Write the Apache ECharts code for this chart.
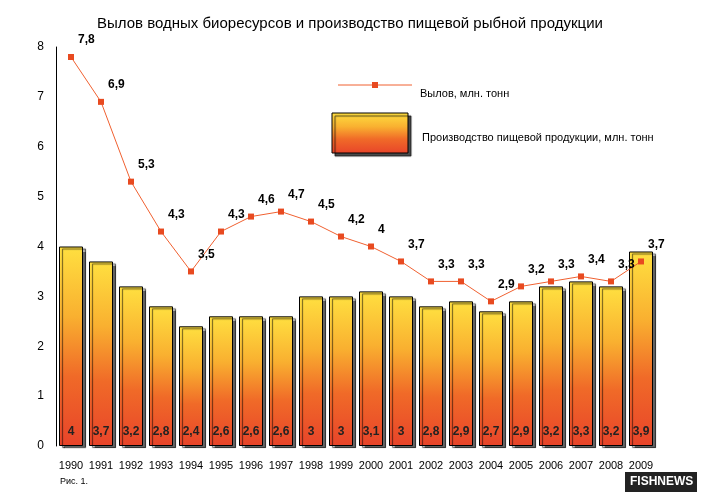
<!DOCTYPE html>
<html><head><meta charset="utf-8">
<script src="https://cdn.jsdelivr.net/npm/echarts@6/dist/echarts.min.js"></script>
<style>body{margin:0;background:#fff}#main{width:709px;height:501px}</style>
</head><body><div id="main"></div>
<script>
var years = ['1990','1991','1992','1993','1994','1995','1996','1997','1998','1999','2000','2001','2002','2003','2004','2005','2006','2007','2008','2009'];
var catch_ = [7.8,6.9,5.3,4.3,3.5,4.3,4.6,4.7,4.5,4.2,4,3.7,3.3,3.3,2.9,3.2,3.3,3.4,3.3,3.7];
var food = [4,3.7,3.2,2.8,2.4,2.6,2.6,2.6,3,3,3.1,3,2.8,2.9,2.7,2.9,3.2,3.3,3.2,3.9];
var yTicks = [0,1,2,3,4,5,6,7,8];

var chart = echarts.init(document.getElementById('main'));
var grad = new echarts.graphic.LinearGradient(0,0,0,1,[
  {offset:0,color:'#ffe040'},{offset:0.35,color:'#f9b030'},{offset:0.65,color:'#f06a28'},{offset:1,color:'#e8442a'}]);
var fmt = function(p){ return String(p.value).replace('.', ','); };
var option = {
  animation:false,
  textStyle:{fontFamily:'Liberation Sans, Arial'},
  title:{text:'Вылов водных биоресурсов и производство пищевой рыбной продукции',left:92,top:11,
    textStyle:{fontSize:15,fontWeight:'normal',color:'#000'}},
  grid:{left:56,right:53,top:47,bottom:55},
  xAxis:{type:'category',data:years,
    axisLine:{show:false},axisTick:{show:false},
    axisLabel:{color:'#000',fontSize:11,margin:14,interval:0}},
  yAxis:{type:'value',min:0,max:8,interval:1,
    axisLine:{show:true,lineStyle:{color:'#000'}},axisTick:{show:false},splitLine:{show:false},
    axisLabel:{color:'#000',fontSize:12,margin:12,formatter:function(v){return yTicks.indexOf(v)>=0?v:'';}}},
  series:[
    {name:'Производство пищевой продукции, млн. тонн',type:'bar',data:food,barWidth:24,
     itemStyle:{color:grad,borderColor:'#000',borderWidth:1,shadowColor:'rgba(0,0,0,0.6)',shadowOffsetX:3,shadowOffsetY:2,shadowBlur:1},
     label:{show:true,position:'insideBottom',distance:8,color:'#222',fontSize:12,fontWeight:'bold',formatter:fmt}},
    {name:'Вылов, млн. тонн',type:'line',data:catch_,symbol:'rect',symbolSize:6,
     lineStyle:{color:'#f06030',width:1},itemStyle:{color:'#e84a20'},
     label:{show:true,position:[10,-20],color:'#000',fontSize:12,fontWeight:'bold',formatter:fmt}}
  ],
  graphic:[
    {type:'line',shape:{x1:338,y1:85,x2:412,y2:85},style:{stroke:'#f06030',lineWidth:1}},
    {type:'rect',shape:{x:372,y:82,width:6,height:6},style:{fill:'#e84a20'}},
    {type:'text',left:420,top:88,style:{text:'Вылов, млн. тонн',fontSize:11,fill:'#000',fontFamily:'Liberation Sans'}},
    {type:'rect',shape:{x:332,y:113,width:76,height:40},
     style:{fill:grad,stroke:'#000',lineWidth:1,shadowColor:'rgba(0,0,0,0.7)',shadowOffsetX:3,shadowOffsetY:3,shadowBlur:1}},
    {type:'text',left:422,top:132,style:{text:'Производство пищевой продукции, млн. тонн',fontSize:11,fill:'#000',fontFamily:'Liberation Sans'}},
    {type:'text',left:60,top:477,style:{text:'Рис. 1.',fontSize:9,fill:'#000'}},
    {type:'rect',shape:{x:625,y:472,width:72,height:20},style:{fill:'#222'}},
    {type:'text',left:630,top:476,style:{text:'FISHNEWS',fontSize:12,fontWeight:'bold',fill:'#fff'}}
  ]
};
chart.setOption(option);
</script></body></html>
